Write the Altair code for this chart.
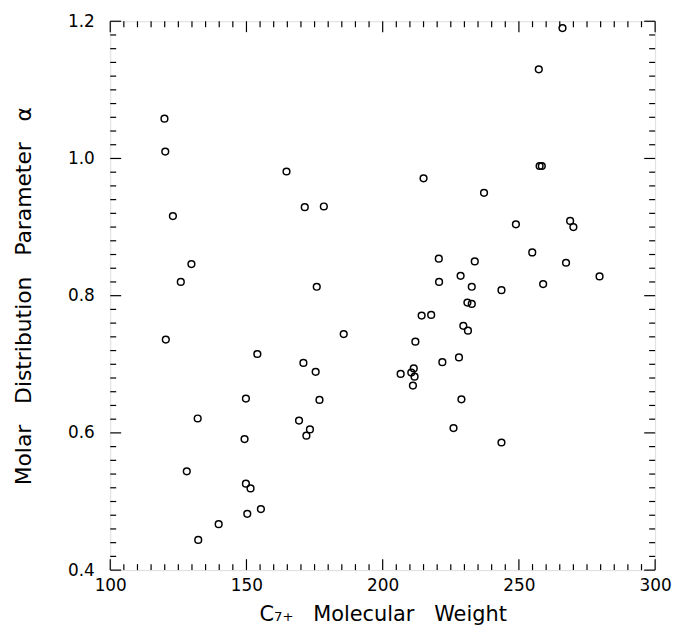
import altair as alt
import pandas as pd

# C7+ molecular weight and molar distribution parameter alpha
mw = [119.9, 120.2, 123.0, 129.8, 125.9, 164.7, 171.4, 178.4, 175.8,
      266.0, 257.3, 257.6, 258.4, 215.0, 237.2, 248.9, 268.8, 270.0, 254.9,
      220.6, 233.8, 267.3, 279.6, 228.6, 220.7, 258.9, 232.7, 243.6, 231.1,
      232.7, 214.3, 217.8, 229.6, 231.3,
      212.0, 221.9, 228.0, 206.6, 210.5, 211.4, 211.7, 211.1, 228.9, 226.0, 243.6,
      120.4, 185.7, 154.0, 170.9, 175.4, 149.8, 176.8, 132.1, 169.3, 173.3,
      172.0, 149.3, 128.1, 149.8, 151.5, 155.3, 150.3, 139.8, 132.3]
alpha = [1.058, 1.010, 0.916, 0.846, 0.820, 0.981, 0.929, 0.930, 0.813,
         1.190, 1.130, 0.989, 0.989, 0.971, 0.950, 0.904, 0.909, 0.900, 0.863,
         0.854, 0.850, 0.848, 0.828, 0.829, 0.820, 0.817, 0.813, 0.808, 0.790,
         0.788, 0.771, 0.772, 0.756, 0.749,
         0.733, 0.703, 0.710, 0.686, 0.688, 0.694, 0.682, 0.669, 0.649, 0.607, 0.586,
         0.736, 0.744, 0.715, 0.702, 0.689, 0.650, 0.648, 0.621, 0.618, 0.605,
         0.596, 0.591, 0.544, 0.526, 0.519, 0.489, 0.482, 0.467, 0.444]

x_labels = [100, 150, 200, 250, 300]
y_labels = [0.4, 0.6, 0.8, 1.0, 1.2]
x_minor = [100 + 5 * i for i in range(41)]
y_minor = [round(0.4 + 0.02 * i, 2) for i in range(41)]

W, H = 549, 553
FONT = "DejaVu Sans"
MINOR, MAJOR = 6, 11
SP = "\u00a0\u00a0\u00a0"

df = pd.DataFrame({"mw": mw, "alpha": alpha})
xt = pd.DataFrame({"v": x_minor, "len": [MAJOR if v in x_labels else MINOR for v in x_minor]})
yt = pd.DataFrame({"v": y_minor, "len": [MAJOR if any(abs(v - l) < 1e-9 for l in y_labels) else MINOR for v in y_minor]})

xscale = alt.Scale(domain=[100, 300], nice=False, zero=False)
yscale = alt.Scale(domain=[0.4, 1.2], nice=False, zero=False)

axis_common = dict(ticks=False, domain=False, grid=False, labelFlush=False,
                   labelFontSize=17, labelFont=FONT, titleFont=FONT,
                   labelColor="black", titleColor="black", titleFontWeight="normal")

points = alt.Chart(df).mark_point(
    shape="circle", filled=False, color="black", size=46, strokeWidth=1.5, opacity=1
).encode(
    x=alt.X("mw:Q", scale=xscale,
            axis=alt.Axis(title=f"C₇₊{SP}Molecular{SP}Weight", values=x_labels,
                          labelPadding=8, titlePadding=10, titleFontSize=21, **axis_common)),
    y=alt.Y("alpha:Q", scale=yscale,
            axis=alt.Axis(title=f"Molar{SP}Distribution{SP}Parameter{SP}α",
                          values=y_labels, format=".1f", titleFontSize=22,
                          labelPadding=16, titlePadding=32, **axis_common)),
)

rule_style = dict(color="black", strokeWidth=1.2)
xb = alt.Chart(xt).transform_calculate(y0=str(H), y1=f"{H} - datum.len").mark_rule(**rule_style).encode(
    x=alt.X("v:Q", scale=xscale), y=alt.Y("y0:Q", scale=None), y2="y1:Q")
xtop = alt.Chart(xt).transform_calculate(y0="0", y1="datum.len").mark_rule(**rule_style).encode(
    x=alt.X("v:Q", scale=xscale), y=alt.Y("y0:Q", scale=None), y2="y1:Q")
yl = alt.Chart(yt).transform_calculate(x0="0", x1="datum.len").mark_rule(**rule_style).encode(
    y=alt.Y("v:Q", scale=yscale), x=alt.X("x0:Q", scale=None), x2="x1:Q")
yr = alt.Chart(yt).transform_calculate(x0=str(W), x1=f"{W} - datum.len").mark_rule(**rule_style).encode(
    y=alt.Y("v:Q", scale=yscale), x=alt.X("x0:Q", scale=None), x2="x1:Q")

chart = alt.layer(xb, xtop, yl, yr, points).properties(
    width=W, height=H,
    autosize=alt.AutoSizeParams(type="none"),
    padding={"left": 103, "top": 11, "right": 17, "bottom": 59},
).configure_view(stroke="black", strokeWidth=1.5).configure(background="white")

chart.save("out.html", embed_options={"renderer": "svg", "actions": False})
